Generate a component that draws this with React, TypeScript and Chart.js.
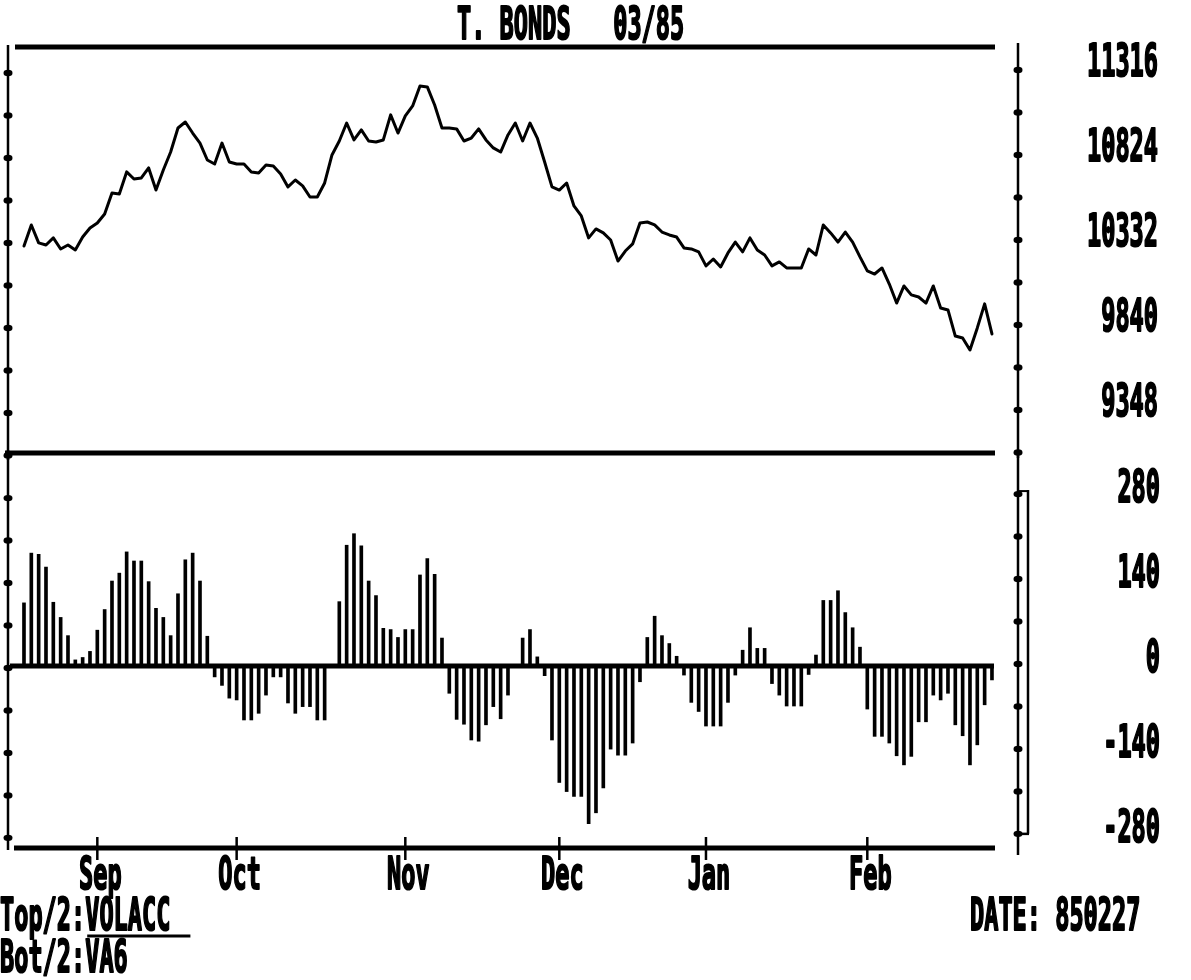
import React, { useEffect, useRef } from "react";
import { Chart, registerables } from "chart.js";

Chart.register(...registerables);

const W = 1191;
const H = 980;
const INK = "#000";

const TITLE = "T. BONDS   03/85";
const MONTHS = ["Sep", "Oct", "Nov", "Dec", "Jan", "Feb"];
const MONTH_START_INDEX = [10, 29, 52, 73, 93, 115];
const FOOT_LEFT_1_PREFIX = "Top/2:";
const FOOT_LEFT_1_NAME = "VOLACC";
const FOOT_LEFT_2 = "Bot/2:VA6";
const FOOT_RIGHT = "DATE: 850227";

// daily T-bond price (x100), one value per trading day
const PRICE = [
  10297, 10419, 10315, 10303, 10344, 10280, 10303, 10274, 10349, 10401,
  10430, 10482, 10604, 10598, 10726, 10685, 10691, 10749, 10621, 10737,
  10841, 10980, 11015, 10951, 10893, 10795, 10772, 10893, 10783, 10772,
  10772, 10726, 10720, 10766, 10760, 10714, 10639, 10679, 10645, 10581,
  10581, 10662, 10824, 10905, 11009, 10911, 10969, 10905, 10899, 10911,
  11056, 10951, 11050, 11108, 11223, 11218, 11113, 10980, 10980, 10975,
  10905, 10922, 10975, 10911, 10865, 10841, 10940, 11009, 10905, 11009,
  10922, 10783, 10639, 10621, 10662, 10529, 10471, 10344, 10396, 10373,
  10332, 10210, 10268, 10309, 10430, 10436, 10419, 10378, 10361, 10349,
  10286, 10280, 10263, 10182, 10222, 10176, 10257, 10320, 10263, 10344,
  10274, 10245, 10182, 10205, 10170, 10170, 10170, 10280, 10245, 10419,
  10373, 10320, 10378, 10320, 10234, 10153, 10135, 10170, 10077, 9967,
  10066, 10014, 10002, 9967, 10066, 9938, 9927, 9776, 9765, 9695,
  9823, 9962, 9788,
];

// volume/accumulation oscillator, one value per trading day
const OSC = [
  104, 186, 184, 163, 105, 80, 50, 10, 14, 24,
  59, 93, 140, 153, 188, 173, 173, 139, 95, 80,
  50, 119, 175, 186, 140, 49, -18, -32, -53, -56,
  -89, -89, -78, -48, -18, -18, -61, -78, -67, -67,
  -89, -89, 0, 106, 199, 218, 198, 140, 116, 62,
  60, 47, 60, 60, 150, 177, 151, 46, -45, -88,
  -96, -122, -124, -97, -67, -87, -48, 0, 46, 60,
  15, -16, -122, -192, -207, -215, -215, -260, -242, -201,
  -137, -147, -147, -127, -26, 47, 82, 50, 37, 16,
  -15, -60, -75, -99, -99, -99, -60, -15, 26, 63,
  29, 29, -29, -48, -66, -66, -66, -14, 18, 108,
  108, 124, 88, 63, 31, -71, -116, -116, -127, -148,
  -163, -149, -92, -92, -48, -56, -45, -97, -115, -163,
  -130, -64, -23,
];

const PRICE_TICKS = [9102, 9348, 9594, 9840, 10086, 10332, 10578, 10824, 11070, 11316];
const PRICE_LABELS = [9348, 9840, 10332, 10824, 11316];
const OSC_TICKS = [-280, -210, -140, -70, 0, 70, 140, 210, 280];
const OSC_LABELS = [-280, -140, 0, 140, 280];

const PRICE_MIN = 9099;
const PRICE_MAX = 11449;
const OSC_MIN = -300;
const OSC_MAX = 351;

const FONT_FAMILY = '"DejaVu Sans Mono", "Liberation Mono", monospace';
const FONT_SIZE = 45;
const CHAR_ADVANCE = 14.2;

function condensedText(
  ctx: CanvasRenderingContext2D,
  text: string,
  x: number,
  baseline: number,
  align: "left" | "right" | "center"
): { left: number; width: number } {
  ctx.save();
  ctx.font = `bold ${FONT_SIZE}px ${FONT_FAMILY}`;
  const charW = ctx.measureText("M").width;
  const sx = CHAR_ADVANCE / charW;
  const w = ctx.measureText(text).width * sx;
  const left = align === "left" ? x : align === "right" ? x - w : x - w / 2;
  ctx.translate(left, baseline);
  ctx.scale(sx, 1);
  ctx.textAlign = "left";
  ctx.textBaseline = "alphabetic";
  ctx.fillStyle = INK;
  ctx.strokeStyle = INK;
  ctx.lineWidth = 2.2;
  ctx.lineJoin = "round";
  ctx.fillText(text, 0, 0);
  ctx.strokeText(text, 0, 0);
  ctx.restore();
  return { left, width: w };
}

function hline(ctx: CanvasRenderingContext2D, x1: number, x2: number, y: number, lw: number) {
  ctx.lineWidth = lw;
  ctx.beginPath();
  ctx.moveTo(x1, y);
  ctx.lineTo(x2, y);
  ctx.stroke();
}

function vline(ctx: CanvasRenderingContext2D, x: number, y1: number, y2: number, lw: number) {
  ctx.lineWidth = lw;
  ctx.beginPath();
  ctx.moveTo(x, y1);
  ctx.lineTo(x, y2);
  ctx.stroke();
}

function dot(ctx: CanvasRenderingContext2D, x: number, y: number) {
  ctx.beginPath();
  ctx.ellipse(x, y, 4.5, 3.2, 0, 0, Math.PI * 2);
  ctx.fill();
}

const topDecor = {
  id: "topDecor",
  afterDraw(chart: any) {
    const { ctx, chartArea: a, scales } = chart;
    const ys = scales.y;
    ctx.save();
    ctx.strokeStyle = INK;
    ctx.fillStyle = INK;
    hline(ctx, a.left + 7, a.right - 23, a.top, 5);
    hline(ctx, a.left - 3, a.right - 23, a.bottom, 5);
    const lx = a.left;
    const rx = a.right;
    vline(ctx, lx, a.top - 2, a.bottom + 7, 2.5);
    vline(ctx, rx, a.top - 4, a.bottom + 5, 2.5);
    for (const t of PRICE_TICKS) {
      const py = ys.getPixelForValue(t);
      dot(ctx, lx, py + 3);
      dot(ctx, rx, py);
    }
    for (const t of PRICE_LABELS) {
      condensedText(ctx, String(t), rx + 140, ys.getPixelForValue(t) + 6, "right");
    }
    condensedText(ctx, TITLE, 457, 39, "left");
    ctx.restore();
  },
};

const bottomDecor = {
  id: "bottomDecor",
  beforeDatasetsDraw(chart: any) {
    const { ctx, chartArea: a, scales } = chart;
    ctx.save();
    ctx.strokeStyle = INK;
    hline(ctx, a.left + 2, a.right - 24, scales.y.getPixelForValue(0), 5);
    ctx.restore();
  },
  afterDraw(chart: any) {
    const { ctx, chartArea: a, scales } = chart;
    const xs = scales.x;
    const ys = scales.y;
    ctx.save();
    ctx.strokeStyle = INK;
    ctx.fillStyle = INK;
    // bottom time axis
    hline(ctx, a.left + 6, a.right - 23, a.bottom, 5);
    MONTH_START_INDEX.forEach((idx, k) => {
      const px = xs.getPixelForValue(idx);
      vline(ctx, px, a.bottom - 11, a.bottom + 12, 2.5);
      condensedText(ctx, MONTHS[k], px + 3, a.bottom + 41, "center");
    });
    // side axes
    const lx = a.left;
    const rx = a.right;
    vline(ctx, lx, a.top - 3, a.bottom + 2, 2.5);
    vline(ctx, rx, a.top - 3, a.bottom + 7, 2.5);
    for (const t of OSC_TICKS) {
      const py = ys.getPixelForValue(t);
      dot(ctx, lx, py + 2);
      dot(ctx, rx, py - 2);
    }
    // bracket on the right axis
    const bx = rx + 10;
    const yTop = ys.getPixelForValue(OSC_TICKS[OSC_TICKS.length - 1]) - 6;
    const yBot = ys.getPixelForValue(OSC_TICKS[0]) - 2;
    vline(ctx, bx, yTop, yBot, 2.5);
    hline(ctx, rx, bx + 1, yBot, 2.5);
    hline(ctx, rx, bx + 1, yTop + 1, 2);
    for (const t of OSC_LABELS) {
      condensedText(ctx, String(t), rx + 142, ys.getPixelForValue(t) + 6, "right");
    }
    // footer
    const pre = condensedText(ctx, FOOT_LEFT_1_PREFIX, 0, 930, "left");
    const name = condensedText(ctx, FOOT_LEFT_1_NAME, pre.left + pre.width, 930, "left");
    hline(ctx, name.left + 2, name.left + name.width + 20, 936, 3);
    condensedText(ctx, FOOT_LEFT_2, 0, 972, "left");
    condensedText(ctx, FOOT_RIGHT, 970, 930, "left");
    ctx.restore();
  },
};

const X_MIN = -2.18;
const X_MAX = 135.55;

export default function App() {
  const topRef = useRef<HTMLCanvasElement>(null);
  const botRef = useRef<HTMLCanvasElement>(null);

  useEffect(() => {
    const common = {
      responsive: false,
      animation: false as const,
      devicePixelRatio: 1,
      events: [] as any[],
      plugins: { legend: { display: false }, tooltip: { enabled: false }, title: { display: false } },
    };
    const topChart = new Chart(topRef.current as HTMLCanvasElement, {
      type: "line",
      data: {
        datasets: [
          {
            data: PRICE.map((v, i) => ({ x: i, y: v })),
            borderColor: INK,
            borderWidth: 3,
            pointRadius: 0,
            tension: 0,
            borderJoinStyle: "round",
            borderCapStyle: "round",
            fill: false,
          },
        ],
      },
      options: {
        ...common,
        layout: { padding: { left: 8, right: W - 1018, top: 47, bottom: H - 453 } },
        scales: {
          x: { type: "linear", min: X_MIN, max: X_MAX, display: false, offset: false },
          y: { type: "linear", min: PRICE_MIN, max: PRICE_MAX, display: false },
        },
      },
      plugins: [topDecor],
    } as any);

    const botChart = new Chart(botRef.current as HTMLCanvasElement, {
      type: "bar",
      data: {
        datasets: [
          {
            data: OSC.map((v, i) => ({ x: i, y: v })),
            backgroundColor: INK,
            borderWidth: 0,
            barThickness: 3,
          },
        ],
      },
      options: {
        ...common,
        layout: { padding: { left: 8, right: W - 1018, top: 453, bottom: H - 848 } },
        scales: {
          x: { type: "linear", min: X_MIN, max: X_MAX, display: false, offset: false, grid: { offset: false } },
          y: { type: "linear", min: OSC_MIN, max: OSC_MAX, display: false },
        },
      },
      plugins: [bottomDecor],
    } as any);

    return () => {
      topChart.destroy();
      botChart.destroy();
    };
  }, []);

  const canvasStyle: React.CSSProperties = { position: "absolute", left: 0, top: 0, width: W, height: H };
  return (
    <div style={{ position: "absolute", left: 0, top: 0, width: W, height: H, background: "#fff", overflow: "hidden" }}>
      <canvas ref={topRef} width={W} height={H} style={canvasStyle} />
      <canvas ref={botRef} width={W} height={H} style={canvasStyle} />
    </div>
  );
}
